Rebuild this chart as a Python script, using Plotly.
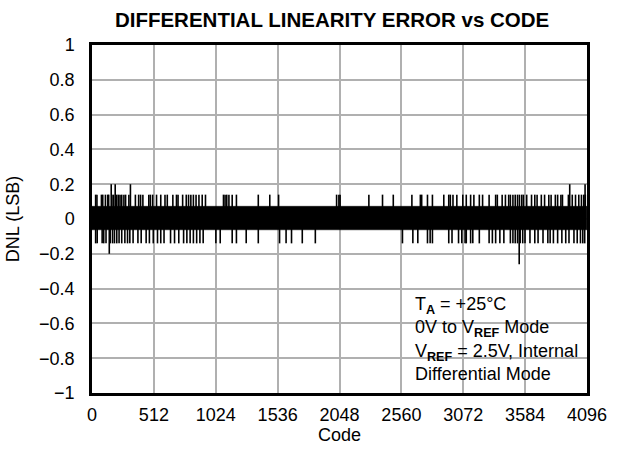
import plotly.graph_objects as go

# ---------------- data ----------------
code_span = [0, 4095]
core_upper = [0.073, 0.073]      # dense band upper edge (LSB)
core_lower = [-0.062, -0.062]    # dense band lower edge (LSB)

pos_spike_codes = [30, 41, 78, 89, 111, 130, 138, 165, 178, 205, 219, 232, 246, 264,
                   278, 305, 359, 386, 402, 421, 470, 483, 502, 534, 569, 604, 623,
                   669, 699, 712, 750, 780, 799, 818, 839, 861, 885, 912, 939,
                   1088, 1101, 1115, 1133, 1160, 1195, 1376, 1471, 1544, 2024, 2043,
                   2053, 2291, 2404, 2493, 2647, 2717, 2728, 2776, 2817, 2911, 2952,
                   2965, 2987, 3019, 3068,
                   3097, 3133, 3160, 3205, 3232, 3286, 3340, 3354, 3394, 3421, 3448,
                   3462, 3483, 3502, 3521, 3537, 3556, 3570, 3597, 3637, 3664, 3683,
                   3718, 3745, 3780, 3799, 3834, 3853, 3880, 3893, 3942, 3974, 4001,
                   4028, 4050, 4069, 4082]
pos_spike_value = 0.14

neg_spike_codes = [30, 43, 84, 97, 116, 151, 170, 186, 205, 224, 246, 272, 294, 313,
                   340, 380, 407, 448, 475, 507, 542, 569, 596, 650, 683, 718, 758,
                   785, 812, 839, 866, 893, 920,
                   1025, 1061, 1160, 1195, 1276, 1376, 1552, 1606, 1651, 1740, 1848,
                   2569, 2655, 2696, 2776, 2798, 2817, 2952, 2979, 3033, 3060, 3087,
                   3097, 3133, 3151, 3205, 3286, 3313, 3340, 3375, 3408, 3462, 3483,
                   3502, 3521, 3543, 3564, 3583, 3624, 3664, 3691, 3732, 3772, 3791,
                   3818, 3853, 3888, 3920, 3947, 3988, 4015, 4042, 4061, 4077]
neg_spike_value = -0.14

big_spike_codes = [143, 159, 192, 318, 3535, 3953, 4080]
big_spike_values = [-0.2, 0.2, 0.2, 0.2, -0.26, 0.2, 0.2]

x_tick_vals = [0, 512, 1024, 1536, 2048, 2560, 3072, 3584, 4096]

note_text = ("T<sub><b>A</b></sub> = +25°C<br>"
             "0V to V<sub><b>REF</b></sub> Mode<br>"
             "V<sub><b>REF</b></sub> = 2.5V, Internal<br>"
             "Differential Mode")

# ---------------- build spike segments ----------------
sx, sy = [], []
for c in pos_spike_codes:
    sx += [c, c, None]
    sy += [0, pos_spike_value, None]
for c in neg_spike_codes:
    sx += [c, c, None]
    sy += [0, neg_spike_value, None]
for c, v in zip(big_spike_codes, big_spike_values):
    sx += [c, c, None]
    sy += [0, v, None]

FONT = "Liberation Sans, Arial, sans-serif"

fig = go.Figure()
fig.add_trace(go.Scatter(
    x=[code_span[0], code_span[1], code_span[1], code_span[0], code_span[0]],
    y=[core_upper[0], core_upper[1], core_lower[1], core_lower[0], core_upper[0]],
    fill="toself", fillcolor="black", mode="lines",
    line=dict(color="black", width=0.5), hoverinfo="skip", showlegend=False))
fig.add_trace(go.Scatter(x=sx, y=sy, mode="lines",
                         line=dict(color="black", width=1.6),
                         showlegend=False, hoverinfo="skip"))

fig.update_layout(
    width=619, height=454,
    margin=dict(l=91, r=22, t=45, b=51),
    paper_bgcolor="white", plot_bgcolor="white",
    font=dict(family=FONT, size=18, color="black"),
    title=dict(text="<b>DIFFERENTIAL LINEARITY ERROR vs CODE</b>",
               x=0.485, xref="paper", xanchor="center",
               y=1 - 20 / 454, yref="container", yanchor="middle",
               font=dict(family=FONT, size=20.5, color="black")),
    showlegend=False,
)
fig.update_xaxes(range=[0, 4096], tickvals=x_tick_vals,
                 showgrid=True, gridcolor="#b0b0b0", gridwidth=1.5,
                 showline=True, linecolor="black", linewidth=2.5, mirror=True,
                 zeroline=False, ticks="", ticklabelstandoff=4,
                 title=dict(text="Code", standoff=4,
                            font=dict(family=FONT, size=18)))
fig.update_yaxes(range=[-1, 1], dtick=0.2, tick0=0,
                 showgrid=True, gridcolor="#b0b0b0", gridwidth=1.5,
                 showline=True, linecolor="black", linewidth=2.5, mirror=True,
                 zeroline=False, ticks="", ticklabelstandoff=11,
                 title=dict(text="DNL (LSB)", standoff=15,
                            font=dict(family=FONT, size=18)))

fig.add_shape(type="rect", xref="paper", yref="y",
              x0=0.619, x1=1.0, y0=-1, y1=-0.38,
              fillcolor="white", line=dict(width=0), layer="between")
fig.add_annotation(
    xref="paper", yref="y", x=0.648, y=-0.69, xanchor="left", yanchor="middle",
    align="left", showarrow=False, text=note_text,
    font=dict(family=FONT, size=18, color="black"))

fig.write_html("out.html",
               config={"displayModeBar": False},
               post_script="document.body.style.margin='0';"
                           "document.body.style.overflow='hidden';")
